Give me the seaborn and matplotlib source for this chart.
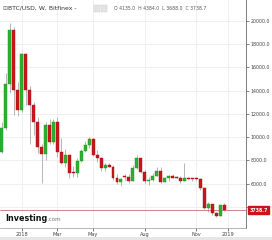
import matplotlib
matplotlib.use("Agg")
import numpy as np
import pandas as pd
import seaborn as sns
import matplotlib.pyplot as plt
from matplotlib.patches import Rectangle

# ---- data (weekly candles, week index relative to 2018-01-01) ----
weeks = list(range(-5, 52))
opens = [8700, 10800, 14600, 19200, 14050, 12330, 17120, 14050, 12760, 11340,
         9190, 8560, 11040, 9610, 11340, 8760, 7810, 8470, 6950, 6900,
         7980, 8840, 9330, 9820, 8450, 8200, 7330, 7610, 7470, 6470,
         6180, 6640, 6560, 6230, 7330, 8190, 7040, 6200, 6330, 6670,
         7130, 6180, 6470, 6670, 6560, 6460, 6270, 6500, 6440, 6420,
         6380, 5610, 3900, 4250, 3480, 3230, 4135]
highs = [11300, 15500, 19800, 19500, 14700, 17200, 17250, 14400, 13000, 11700,
         9400, 11300, 11600, 11600, 11700, 9900, 9000, 8500, 7500, 8200,
         9000, 9700, 9990, 9900, 8900, 8300, 7800, 7800, 7600, 6850,
         6500, 6800, 6800, 7600, 8500, 8250, 7150, 6600, 6900, 7400,
         7420, 6600, 6750, 6850, 6650, 6700, 7770, 6600, 6500, 6550,
         6500, 5700, 4400, 4300, 3600, 4200, 4384]
lows = [8600, 10600, 13800, 11900, 11800, 12200, 12800, 9400, 10200, 8600,
        6060, 8000, 9400, 9400, 8300, 7700, 7400, 6500, 6600, 6600,
        7900, 8700, 9100, 8400, 7900, 7100, 7050, 7400, 6300, 6000,
        5800, 6300, 6100, 6200, 7300, 6900, 6100, 5900, 6250, 6650,
        6100, 6150, 6200, 6450, 6500, 6100, 6250, 6400, 6250, 6350,
        5500, 3800, 3550, 3300, 3150, 3200, 3688]
closes = [10800, 14600, 19200, 14050, 12330, 17120, 14050, 12760, 11340, 9190,
          8560, 11040, 9610, 11340, 8760, 7810, 8470, 6950, 6900, 7980,
          8840, 9330, 9820, 8450, 8200, 7330, 7610, 7470, 6470, 6180,
          6380, 6560, 6230, 7330, 8190, 7040, 6200, 6330, 6670, 7130,
          6180, 6470, 6670, 6530, 6460, 6270, 6500, 6440, 6380, 6380,
          5610, 3900, 4250, 3480, 3230, 4135, 3738.7]

tick_weeks = [0, 9, 18, 31, 44, 52]
tick_labels = ["2018", "Mar", "May", "Aug", "Nov", "2019"]
price_ticks = [4000, 6000, 8000, 10000, 12000, 14000, 16000, 18000, 20000]
last_price = 3738.7

df = pd.DataFrame({"week": weeks, "open": opens, "high": highs,
                   "low": lows, "close": closes})
df["up"] = df["close"] >= df["open"]

sns.set_theme(style="white")
plt.rcParams["font.family"] = ["DejaVu Sans"]

GREEN = "#2fb12f"
RED = "#c8171d"

fig = plt.figure(figsize=(2.72, 2.40), dpi=100)
ax = fig.add_axes([0.0, 0.05, 0.9044, 0.95])

# grid
for t in tick_weeks:
    ax.axvline(t, color="#ededed", lw=0.6, zorder=0)
for p in price_ticks:
    ax.axhline(p, color="#ededed", lw=0.6, zorder=0)

# wicks
ax.vlines(df["week"], df["low"], df["high"], color="#9a9a9a", lw=0.5, zorder=1)

# bodies
body_bottom = np.minimum(df["open"], df["close"])
body_h = np.maximum(np.abs(df["close"] - df["open"]), 90)
colors = [GREEN if u else RED for u in df["up"]]
edges = ["#1f8a1f" if u else "#9c1015" for u in df["up"]]
ax.bar(df["week"], body_h, bottom=body_bottom, width=0.74, color=colors,
       edgecolor=edges, linewidth=0.3, zorder=2)

# last price line
ax.axhline(last_price, color="#c9706a", lw=0.6, zorder=1)

ax.set_xlim(-5.47, 56.5)
ax.set_ylim(2197, 21778)

ax.yaxis.tick_right()
ax.set_yticks(price_ticks)
# the 4000.0 label sits behind the last-price box in the reference
ax.set_yticklabels(["" if p == 4000 else f"{p:.1f}" for p in price_ticks])
ax.set_xticks(tick_weeks)
ax.set_xticklabels(tick_labels)
ax.tick_params(axis="y", labelsize=3.4, colors="#555555", length=2, width=0.5,
               pad=1.5, right=True, left=False)
ax.tick_params(axis="x", labelsize=3.6, colors="#444444", length=2, width=0.5,
               pad=1.2, bottom=True)
for lab in ax.get_xticklabels() + ax.get_yticklabels():
    lab.set_color("#444444")

for s in ["top", "left"]:
    ax.spines[s].set_visible(False)
ax.spines["right"].set_color("#666666")
ax.spines["right"].set_linewidth(0.6)
ax.spines["bottom"].set_color("#999999")
ax.spines["bottom"].set_linewidth(0.5)
ax.set_xlabel("")
ax.set_ylabel("")

# price label box on the right axis
ax.annotate(f"{last_price:.1f}", xy=(1.0, last_price),
            xycoords=("axes fraction", "data"), xytext=(2.5, 0),
            textcoords="offset points", va="center", ha="left",
            fontsize=3.4, color="white", fontweight="bold",
            bbox=dict(boxstyle="square,pad=0.35", fc="#d0131a", ec="#d0131a"),
            annotation_clip=False, zorder=5)

# header
fig.text(0.008, 0.965, "\u229f", fontsize=4.2, color="#666666", va="center")
fig.text(0.03, 0.965, "BTC/USD, W, Bitfinex -", fontsize=4.4, color="#333333",
         va="center")
fig.patches.append(Rectangle((0.345, 0.952), 0.022, 0.026, transform=fig.transFigure,
                             fc="#e4e4e4", ec="#cccccc", lw=0.3))
fig.patches.append(Rectangle((0.372, 0.952), 0.022, 0.026, transform=fig.transFigure,
                             fc="#e4e4e4", ec="#cccccc", lw=0.3))
fig.text(0.42, 0.965, "O 4135.0  H 4384.0  L 3688.0  C 3738.7", fontsize=3.3,
         color="#555555", va="center")

# logo
fig.text(0.02, 0.09, "Investing", fontsize=5.8, fontweight="bold",
         color="#111111", va="center")
fig.text(0.176, 0.085, ".com", fontsize=4.0, color="#777777", va="center")

# bottom strip
fig.patches.append(Rectangle((0, 0), 1, 0.012, transform=fig.transFigure,
                             fc="#e6e6e6", ec="none"))

fig.savefig("out.png", dpi=100)
